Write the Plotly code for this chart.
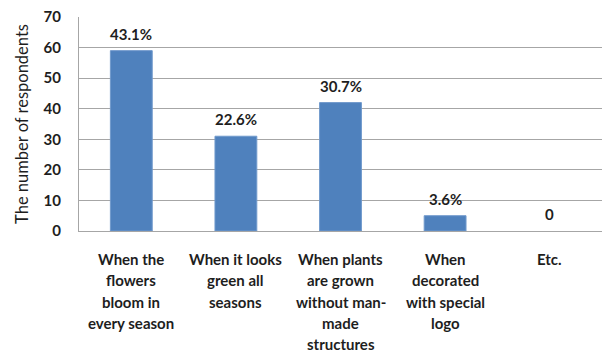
import plotly.graph_objects as go

# Survey answers (multi-line category labels) and respondent counts
categories = [
    "When the<br>flowers<br>bloom in<br>every season",
    "When it looks<br>green all<br>seasons",
    "When plants<br>are grown<br>without man-<br>made<br>structures",
    "When<br>decorated<br>with special<br>logo",
    "Etc.",
]
counts = [59, 31, 42, 5, 0]

total = sum(counts)
pct_labels = [f"{c / total * 100:.1f}%" if c else "0" for c in counts]
x_keys = [c.replace("<br>", " ") for c in categories]

FONT = "Lato, 'Open Sans', sans-serif"
TEXT = "#1e1e1e"
GRID = "#a6a6a6"

fig = go.Figure(
    go.Bar(
        x=x_keys,
        y=counts,
        marker=dict(
            color="#4f81bd",
            line=dict(color="#7099cc", width=[1 if c else 0 for c in counts]),
        ),
        hoverinfo="skip",
    )
)

annotations = []
# value labels above each bar
for key, val, lab in zip(x_keys, counts, pct_labels):
    annotations.append(dict(
        x=key, y=val, xref="x", yref="y", text=f"<b>{lab}</b>",
        showarrow=False, yanchor="middle", yshift=17,
        font=dict(family=FONT, size=15, color=TEXT),
    ))
# category labels under the axis, one line at a time for looser spacing
for key, cat in zip(x_keys, categories):
    for i, line in enumerate(cat.split("<br>")):
        annotations.append(dict(
            x=key, y=0, xref="x", yref="paper", text=f"<b>{line}</b>",
            showarrow=False, yanchor="middle", yshift=-(28 + i * 21.3),
            font=dict(family=FONT, size=15, color=TEXT),
        ))

fig.update_layout(
    width=602, height=352,
    margin=dict(l=79, r=0, t=17, b=121),
    paper_bgcolor="white", plot_bgcolor="white",
    bargap=0.6,
    showlegend=False,
    annotations=annotations,
    font=dict(family=FONT, color=TEXT),
)
fig.update_xaxes(
    showticklabels=False, showgrid=False, showline=True,
    linecolor=GRID, linewidth=1, ticks="",
)
fig.update_yaxes(
    range=[0, 70], dtick=10, showgrid=True, gridcolor=GRID, gridwidth=1,
    showline=True, linecolor=GRID, linewidth=1, zeroline=False,
    ticks="", ticklabelstandoff=14,
    tickfont=dict(family=FONT, size=15, color=TEXT, weight="bold"),
    title=dict(text="The number of respondents", standoff=10,
               font=dict(family=FONT, size=16.5, color=TEXT)),
)

fig.write_html("out.html")
